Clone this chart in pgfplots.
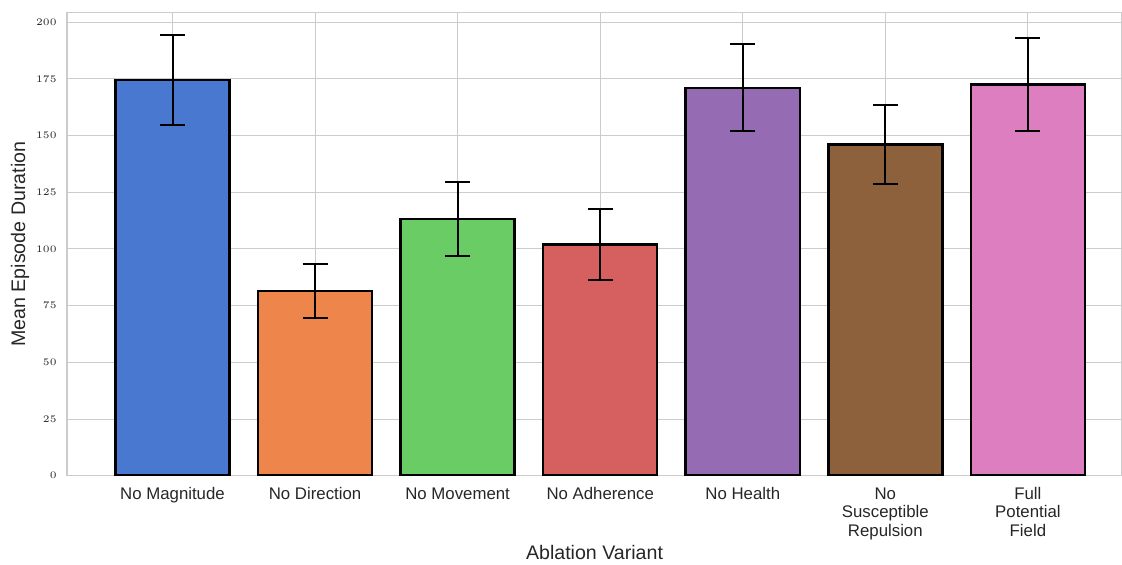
\documentclass[border=0pt]{standalone}
\usepackage{pgfplots}
\pgfplotsset{compat=1.18}
\usepackage{fontspec}
\setsansfont{Liberation Sans}

\definecolor{mblue}{HTML}{4878D0}
\definecolor{morange}{HTML}{EE854A}
\definecolor{mgreen}{HTML}{6ACC64}
\definecolor{mred}{HTML}{D65F5F}
\definecolor{mpurple}{HTML}{956CB4}
\definecolor{mbrown}{HTML}{8C613C}
\definecolor{mpink}{HTML}{DC7EC0}
\definecolor{txt}{gray}{0.15}
\definecolor{gridc}{gray}{0.8}

\pgfplotsset{
  errbar/.style={
    ybar, bar shift=0pt, bar width=0.8, draw=black, line width=1.25pt,
    error bars/y dir=both, error bars/y explicit,
    error bars/error bar style={line width=1pt, black},
    error bars/error mark options={rotate=90, mark size=6.25pt, line width=1pt, black}
  }
}

\begin{document}
\begin{tikzpicture}
\begin{axis}[
  name=ax,
  scale only axis,
  width=527.5pt, height=231.5pt,
  xmin=-0.74, xmax=6.66,
  ymin=0, ymax=204.2,
  xtick={0,1,2,3,4,5,6},
  xticklabels={\strut No Magnitude, \strut No Direction, \strut No Movement, \strut No Adherence, \strut No Health, {\strut No\\Susceptible\\Repulsion}, {\strut Full\\Potential\\Field}},
  ytick={0,25,50,75,100,125,150,175,200},
  major tick length=0pt,
  xmajorgrids, ymajorgrids,
  major grid style={gridc, line width=0.5pt},
  axis line style={gridc, line width=0.6pt},
  xticklabel style={font=\sffamily\fontsize{8.4}{9.3}\selectfont, text=txt, align=center, anchor=north, inner sep=0pt, yshift=-5pt},
  yticklabel style={font=\fontsize{5.4}{6}\selectfont, text=txt, anchor=east, inner sep=0pt, xshift=-5pt},
  xlabel={Ablation Variant},
  ylabel={Mean Episode Duration},
  label style={font=\sffamily\fontsize{9.8}{11}\selectfont, text=txt},
  xlabel style={at={(axis description cs:0.5,-0.166)}, anchor=center},
  ylabel style={at={(axis description cs:-0.0446,0.5)}, anchor=center},
]
\addplot[fill=mblue, errbar]   coordinates {(0,174.5) +- (0,19.9)};
\addplot[fill=morange, errbar] coordinates {(1,81.4)  +- (0,11.9)};
\addplot[fill=mgreen, errbar]  coordinates {(2,113.3) +- (0,16.4)};
\addplot[fill=mred, errbar]    coordinates {(3,101.9) +- (0,15.6)};
\addplot[fill=mpurple, errbar] coordinates {(4,171.1) +- (0,19.1)};
\addplot[fill=mbrown, errbar]  coordinates {(5,146.0) +- (0,17.4)};
\addplot[fill=mpink, errbar]   coordinates {(6,172.6) +- (0,20.5)};
\end{axis}
\pgfresetboundingbox
\path[use as bounding box] ([xshift=-33.5pt,yshift=-44.15pt]ax.south west) rectangle ([yshift=6.35pt]ax.north east);
\end{tikzpicture}
\end{document}
